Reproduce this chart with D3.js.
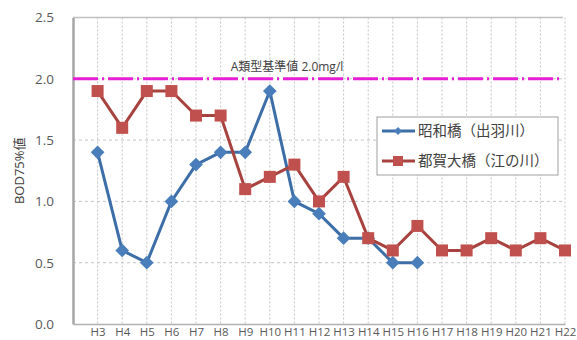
<!DOCTYPE html>
<html>
<head>
<meta charset="utf-8">
<script src="https://cdn.jsdelivr.net/npm/d3@7"></script>
<style>
  body { margin: 0; background: #fff; }
  text { font-family: "Open Sans", "Noto Sans CJK JP", sans-serif; }
</style>
</head>
<body>
<div class="chart"></div>
<script>
// data
const years = ["H3", "H4", "H5", "H6", "H7", "H8", "H9", "H10", "H11", "H12",
    "H13", "H14", "H15", "H16", "H17", "H18", "H19", "H20", "H21", "H22"];
const showaValues = [1.4, 0.6, 0.5, 1.0, 1.3, 1.4, 1.4, 1.9, 1.0, 0.9,
    0.7, 0.7, 0.5, 0.5, null, null, null, null, null, null];
const tsugaValues = [1.9, 1.6, 1.9, 1.9, 1.7, 1.7, 1.1, 1.2, 1.3, 1.0,
    1.2, 0.7, 0.6, 0.8, 0.6, 0.6, 0.7, 0.6, 0.7, 0.6];
const yTicks = [0.0, 0.5, 1.0, 1.5, 2.0, 2.5];
const standardValue = 2.0;
const standardLabel = "A類型基準値 2.0mg/l";
const seriesNames = ["昭和橋（出羽川）", "都賀大橋（江の川）"];
const yLabel = "BOD75%値";

const width = 577, height = 340;
const svg = d3.select(".chart").append("svg")
    .attr("width", width)
    .attr("height", height);

// the category axis keeps one empty slot left of H3
const x = d3.scaleLinear().domain([-1, years.length - 1]).range([73, 565]);
const y = d3.scaleLinear().domain([0, 2.5]).range([324, 17.5]);

// grid
svg.append("g")
    .selectAll("line")
    .data(yTicks.filter(t => t > 0 && t < 2.5))
    .join("line")
    .attr("x1", x(-1)).attr("x2", x(years.length - 1))
    .attr("y1", d => y(d)).attr("y2", d => y(d))
    .attr("stroke", "#c4c4c4")
    .attr("stroke-dasharray", "3,3");

svg.append("g")
    .selectAll("line")
    .data(years)
    .join("line")
    .attr("x1", (d, i) => x(i)).attr("x2", (d, i) => x(i))
    .attr("y1", y(2.5)).attr("y2", y(0))
    .attr("stroke", "#c4c4c4")
    .attr("stroke-dasharray", "2,2");

// top border
svg.append("line")
    .attr("x1", x(-1)).attr("x2", x(years.length - 1) - 2)
    .attr("y1", y(2.5)).attr("y2", y(2.5))
    .attr("stroke", "#c0c0c0")
    .attr("stroke-width", 1.5);

// axes
svg.append("g")
    .attr("transform", `translate(${x(-1)},0)`)
    .call(d3.axisLeft(y).tickValues(yTicks).tickFormat(d3.format(".1f")).tickSize(0).tickPadding(19))
    .call(g => g.select(".domain").attr("stroke", "#a6a6a6").attr("stroke-width", 2.5))
    .call(g => g.selectAll("text").attr("fill", "#595959").style("font-size", "13.5px"));

svg.append("g")
    .attr("transform", `translate(0,${y(0)})`)
    .call(d3.axisBottom(x).tickValues(d3.range(years.length)).tickFormat(i => years[i]).tickSize(0).tickPadding(4))
    .call(g => g.select(".domain").attr("stroke", "#b0b0b0").attr("stroke-width", 1.5))
    .call(g => g.selectAll("text").attr("fill", "#595959").style("font-size", "11.5px"));

svg.append("text")
    .attr("transform", `translate(24,${(y(0) + y(2.5)) / 2}) rotate(-90)`)
    .attr("text-anchor", "middle")
    .attr("fill", "#404040")
    .style("font-size", "13px")
    .text(yLabel);

// standard line
svg.append("line")
    .attr("x1", x(-1)).attr("x2", x(years.length - 1) - 3)
    .attr("y1", y(standardValue)).attr("y2", y(standardValue))
    .attr("stroke", "#e61ed6")
    .attr("stroke-width", 3)
    .attr("stroke-dasharray", "25,4,2,4");

svg.append("text")
    .attr("x", 287).attr("y", 71)
    .attr("text-anchor", "middle")
    .attr("fill", "#404040")
    .style("font-size", "12px")
    .text(standardLabel);

// series
const line = d3.line()
    .defined(d => d != null)
    .x((d, i) => x(i))
    .y(d => y(d));

svg.append("path")
    .datum(showaValues)
    .attr("fill", "none")
    .attr("stroke", "#3d6ea8")
    .attr("stroke-width", 3)
    .attr("d", line);

svg.append("g")
    .selectAll("path")
    .data(showaValues.map((v, i) => [i, v]).filter(d => d[1] != null))
    .join("path")
    .attr("transform", d => `translate(${x(d[0])},${y(d[1])})`)
    .attr("d", d3.symbol(d3.symbolDiamond2, 120))
    .attr("fill", "#4a7ebb");

svg.append("path")
    .datum(tsugaValues)
    .attr("fill", "none")
    .attr("stroke", "#a8423f")
    .attr("stroke-width", 3)
    .attr("d", line);

svg.append("g")
    .selectAll("rect")
    .data(tsugaValues.map((v, i) => [i, v]))
    .join("rect")
    .attr("x", d => x(d[0]) - 6).attr("y", d => y(d[1]) - 6)
    .attr("width", 12).attr("height", 12)
    .attr("fill", "#c0504d");

// legend
const legend = svg.append("g").attr("transform", "translate(377,117)");
legend.append("rect")
    .attr("width", 181).attr("height", 58)
    .attr("fill", "#fff")
    .attr("stroke", "#a0a0a0");

const legendRows = legend.selectAll("g.row")
    .data(seriesNames)
    .join("g")
    .attr("class", "row")
    .attr("transform", (d, i) => `translate(0,${14 + i * 30})`);

legendRows.append("line")
    .attr("x1", 5).attr("x2", 38)
    .attr("stroke", (d, i) => i === 0 ? "#3d6ea8" : "#a8423f")
    .attr("stroke-width", 3);

legendRows.filter((d, i) => i === 0).append("path")
    .attr("transform", "translate(21,0)")
    .attr("d", d3.symbol(d3.symbolDiamond2, 40))
    .attr("fill", "#4a7ebb");

legendRows.filter((d, i) => i === 1).append("rect")
    .attr("x", 16).attr("y", -5).attr("width", 10).attr("height", 10)
    .attr("fill", "#c0504d");

legendRows.append("text")
    .attr("x", 41).attr("y", 5)
    .attr("fill", "#404040")
    .style("font-size", "14.5px")
    .style("font-family", "'Noto Sans CJK JP', sans-serif")
    .text(d => d);
</script>
</body>
</html>
